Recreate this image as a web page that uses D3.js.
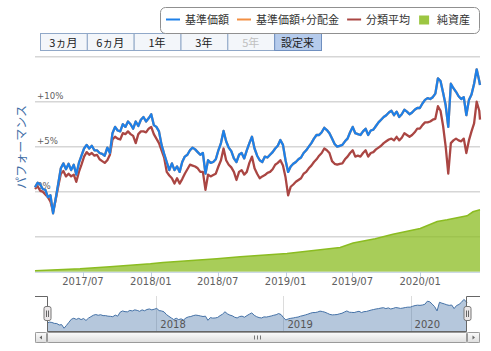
<!DOCTYPE html>
<html><head><meta charset="utf-8">
<script src="https://cdn.jsdelivr.net/npm/d3@7"></script>
<style>body{margin:0;background:#fff}svg{display:block}</style>
</head><body>
<svg id="c" width="491" height="351"></svg>
<script>
// ---------------- data ----------------
const dates = [
"2017-02-21","2017-02-28","2017-03-07","2017-03-14","2017-03-21","2017-03-28","2017-04-04","2017-04-11","2017-04-18","2017-04-25",
"2017-05-02","2017-05-09","2017-05-16","2017-05-23","2017-05-30","2017-06-06","2017-06-13","2017-06-20","2017-06-27","2017-07-04",
"2017-07-11","2017-07-18","2017-07-25","2017-08-01","2017-08-08","2017-08-15","2017-08-22","2017-08-29","2017-09-05","2017-09-12",
"2017-09-19","2017-09-26","2017-10-03","2017-10-10","2017-10-17","2017-10-24","2017-10-31","2017-11-07","2017-11-14","2017-11-21",
"2017-11-28","2017-12-05","2017-12-12","2017-12-19","2017-12-26",
"2018-01-02","2018-01-09","2018-01-16","2018-01-23","2018-01-30","2018-02-06","2018-02-13","2018-02-20","2018-02-27","2018-03-06",
"2018-03-13","2018-03-20","2018-03-27","2018-04-03","2018-04-10","2018-04-17","2018-04-24","2018-05-01","2018-05-08","2018-05-15",
"2018-05-22","2018-05-29","2018-06-05","2018-06-12","2018-06-19","2018-06-26","2018-07-03","2018-07-10","2018-07-17","2018-07-24",
"2018-07-31","2018-08-07","2018-08-14","2018-08-21","2018-08-28","2018-09-04","2018-09-11","2018-09-18","2018-09-25","2018-10-02",
"2018-10-09","2018-10-16","2018-10-23","2018-10-30","2018-11-06","2018-11-13","2018-11-20","2018-11-27","2018-12-04","2018-12-11",
"2018-12-18","2018-12-25",
"2019-01-01","2019-01-08","2019-01-15","2019-01-22","2019-01-29","2019-02-05","2019-02-12","2019-02-19","2019-02-26","2019-03-05",
"2019-03-12","2019-03-19","2019-03-26","2019-04-02","2019-04-09","2019-04-16","2019-04-23","2019-04-30","2019-05-07","2019-05-14",
"2019-05-21","2019-05-28","2019-06-04","2019-06-11","2019-06-18","2019-06-25","2019-07-02","2019-07-09","2019-07-16","2019-07-23",
"2019-07-30","2019-08-06","2019-08-13","2019-08-20","2019-08-27","2019-09-03","2019-09-10","2019-09-17","2019-09-24","2019-10-01",
"2019-10-08","2019-10-15","2019-10-22","2019-10-29","2019-11-05","2019-11-12","2019-11-19","2019-11-26","2019-12-03","2019-12-10",
"2019-12-17","2019-12-24","2019-12-31",
"2020-01-07","2020-01-14","2020-01-21","2020-01-28","2020-02-04","2020-02-11","2020-02-18","2020-02-25","2020-03-03","2020-03-10",
"2020-03-17","2020-03-24","2020-03-31","2020-04-07","2020-04-14","2020-04-21","2020-04-28","2020-05-05","2020-05-12","2020-05-19",
"2020-05-26","2020-06-02","2020-06-09","2020-06-11"];

// 基準価額 (騰落率 %)
const fundValues = [
0.5,1.0,0.8,0.3,0.2,-0.6,-0.4,-2.4,-0.8,0.9,
2.6,3.15,2.5,3.1,2.4,3.0,1.9,3.2,4.0,4.8,
5.2,4.8,5.1,4.6,4.6,4.3,4.2,4.0,4.9,4.3,
6.5,7.2,6.8,6.7,7.5,7.2,7.8,7.5,7.0,7.8,
7.3,8.0,8.3,7.8,8.15,
8.6,7.4,7.2,6.7,5.2,4.2,3.3,2.4,3.15,2.4,
2.8,2.2,3.3,3.9,4.1,4.6,4.9,4.7,4.4,4.1,
4.3,2.0,3.5,3.2,3.3,3.6,4.6,5.4,6.75,5.6,
4.9,4.5,3.7,3.3,4.1,4.3,3.7,4.6,5.4,6.1,
4.8,4.0,3.5,3.3,3.9,3.8,4.1,4.4,4.8,5.1,
5.75,5.2,
3.5,2.2,2.8,3.1,3.3,3.6,3.8,4.3,4.6,5.0,
5.4,5.9,6.3,6.3,6.6,7.1,6.85,6.5,5.9,5.3,
5.0,5.1,5.2,5.6,5.9,6.6,7.2,6.5,6.4,6.3,
6.7,7.0,6.3,6.8,6.9,7.3,7.7,8.0,8.3,8.5,
8.8,9.0,8.5,8.9,8.3,8.6,9.1,8.9,8.6,8.8,
9.1,9.3,9.3,
9.8,10.2,10.4,10.3,10.5,10.9,12.6,12.3,11.0,9.6,
7.2,12.0,11.5,11.1,10.6,10.3,10.5,8.5,10.2,10.8,
12.0,13.6,12.3,11.85];
// 基準価額+分配金 (分配実績なし: 基準価額と同一)
const withDistValues = fundValues.slice();
// 分類平均
const categoryValues = [
0.3,0.6,0.1,0.0,-0.3,-0.6,-1.1,-2.2,-0.9,0.6,
2.0,2.3,1.7,2.0,1.7,1.9,1.1,2.2,3.0,3.9,
4.4,4.1,4.3,4.0,4.1,3.6,3.4,3.2,3.5,4.1,
5.8,6.1,5.9,5.8,6.5,6.4,6.7,6.4,6.2,5.4,
6.4,6.7,6.7,6.6,7.0,
7.2,6.4,5.9,5.4,4.6,3.8,2.2,1.8,1.5,0.9,
1.5,0.9,1.4,2.0,2.5,3.0,2.9,2.8,2.6,2.2,
2.2,0.2,1.9,1.7,1.85,2.0,2.8,3.5,4.8,3.5,
3.0,2.7,2.2,1.3,2.2,2.4,1.9,2.2,3.2,3.9,
2.6,2.0,1.5,1.7,1.85,2.1,2.2,2.5,3.0,3.2,
3.5,2.9,
1.6,-0.4,0.55,0.8,1.1,1.3,1.5,2.0,2.2,2.6,
2.9,3.3,3.6,4.0,4.3,4.8,4.6,4.3,3.4,3.1,
3.0,3.1,3.15,3.6,3.9,4.3,4.6,3.9,4.0,3.9,
4.3,4.6,3.9,4.3,4.4,4.7,4.9,5.1,5.4,5.6,
5.8,5.9,5.7,6.1,5.7,6.0,6.5,6.3,6.1,6.3,
6.6,7.0,7.0,
7.4,7.7,7.7,7.8,8.0,8.1,9.5,9.0,7.3,5.0,
2.0,5.4,5.7,5.9,5.7,5.6,5.9,4.3,5.7,6.7,
7.6,10.0,9.0,8.0];

// 純資産 (相対値)
const assetDates = ["2017-02-21","2017-06-23","2017-09-12","2017-12-31","2018-02-03","2018-06-29","2018-08-31","2019-01-05","2019-04-05","2019-05-29","2019-07-03","2019-09-01","2019-10-19","2020-01-01","2020-02-16","2020-03-14","2020-05-07","2020-05-23","2020-06-11"];
const assetValues = [1,3,5,8,9.4,13,15,18.3,22,24.3,28.7,33,37.5,43.3,50.3,52,56,60,62];

const xTickLabels = ["2017/07","2018/01","2018/07","2019/01","2019/07","2020/01"];
const yTicks = [-5,0,5,10,15];
const yTickLabels = ["","0%","+5%","+10%",""];
const navTickLabels = ["2018","2019","2020"];
const buttons = ["3ヵ月","6ヵ月","1年","3年","5年","設定来"];
const legendItems = ["基準価額","基準価額+分配金","分類平均","純資産"];
const yTitle = "パフォーマンス";

// ---------------- drawing ----------------
const parse = d3.timeParse("%Y-%m-%d");
const pm = d3.timeParse("%Y/%m");
const pts = dates.map((d,i)=>({d:parse(d),f:fundValues[i],w:withDistValues[i],c:categoryValues[i]}));
const assets = assetDates.map((d,i)=>({d:parse(d),v:assetValues[i]}));
const svg = d3.select("#c");
const font = "'DejaVu Sans', Verdana, sans-serif";
const jp = "'Noto Sans CJK JP', 'Noto Sans', sans-serif";

const L = 35, R = 480, T = 56.7, B = 271.8;
const x = d3.scaleTime().domain([parse("2017-02-21"), parse("2020-06-11")]).range([L, R]);
const y = d3.scaleLinear().domain([-8.9, 15]).range([B, T]);
const ya = d3.scaleLinear().domain([0, 100]).range([B, B-100]);

// gridlines
svg.append("g").selectAll("line").data(yTicks).join("line")
  .attr("x1", L).attr("x2", R).attr("y1", d=>y(d)).attr("y2", d=>y(d))
  .attr("stroke", "#d6d6d6").attr("stroke-width", 1.6);

// net assets area
svg.append("path").datum(assets)
  .attr("d", d3.area().x(d=>x(d.d)).y0(B).y1(d=>ya(d.v)))
  .attr("fill", "#8bbc21").attr("fill-opacity", 0.75);
svg.append("path").datum(assets)
  .attr("d", d3.line().x(d=>x(d.d)).y(d=>ya(d.v)))
  .attr("fill", "none").attr("stroke", "#8bbc21").attr("stroke-width", 1.5);

// x axis
svg.append("line").attr("x1",L).attr("x2",R).attr("y1",B+0.5).attr("y2",B+0.5).attr("stroke","#c0d0e0");
const xt = xTickLabels.map(s=>pm(s));
svg.append("g").selectAll("line").data(xt).join("line")
  .attr("x1", d=>Math.round(x(d))+0.5).attr("x2", d=>Math.round(x(d))+0.5)
  .attr("y1", B).attr("y2", B+5).attr("stroke", "#c0d0e0");
svg.append("g").selectAll("text").data(xt).join("text")
  .attr("x", d=>x(d)).attr("y", 284.5).attr("text-anchor","middle")
  .attr("font-family", font).attr("font-size", 10).attr("fill", "#606060")
  .text((d,i)=>xTickLabels[i]);

// y labels
svg.append("g").selectAll("text").data(yTicks).join("text")
  .attr("x", L+2).attr("y", d=>y(d)-2.5)
  .attr("font-family", font).attr("font-size", 8.6).attr("fill", "#606060")
  .text((d,i)=>yTickLabels[i]);

// y title
svg.append("text").attr("transform","translate(26,147) rotate(-90)")
  .attr("text-anchor","middle").attr("font-family", jp).attr("font-size", 12)
  .attr("fill", "#3f6ea6").text(yTitle);

// lines
const line = k => d3.line().x(d=>x(d.d)).y(d=>y(d[k]));
svg.append("path").datum(pts).attr("d", line("c")).attr("fill","none")
  .attr("stroke","#aa4643").attr("stroke-width",2.3).attr("stroke-linejoin","round");
svg.append("path").datum(pts).attr("d", line("w")).attr("fill","none")
  .attr("stroke","#f28f43").attr("stroke-width",2.3).attr("stroke-linejoin","round");
svg.append("path").datum(pts).attr("d", line("f")).attr("fill","none")
  .attr("stroke","#1e80e8").attr("stroke-width",2.3).attr("stroke-linejoin","round");

// range buttons
const bx = d3.scaleBand().domain(buttons).range([40, 321]);
const bg = svg.append("g").selectAll("g").data(buttons).join("g");
bg.append("rect").attr("x", d=>bx(d)+0.5).attr("y", 33.5).attr("width", bx.bandwidth()).attr("height", 17)
  .attr("fill", d=>d==="設定来" ? "#b5cbec" : "#f3f6fa")
  .attr("stroke", d=>d==="設定来" ? "#6f8fbf" : "#90a8c8");
bg.append("text").attr("x", d=>bx(d)+bx.bandwidth()/2).attr("y", 46.5).attr("text-anchor","middle")
  .attr("font-family", jp).attr("font-size", 11)
  .attr("fill", d=>d==="5年" ? "#c0c0c0" : "#222").text(d=>d);

// legend
svg.append("rect").attr("x",160.5).attr("y",7.5).attr("width",319).attr("height",26).attr("rx",5)
  .attr("fill","#fff").attr("stroke","#909090");
const lcol = ["#1e80e8","#f28f43","#aa4643","#8bbc21"];
let lx = 166;
legendItems.forEach((t,i)=>{
  if (i===3) {
    svg.append("rect").attr("x",lx+1).attr("y",15.5).attr("width",10).attr("height",9).attr("fill","#8bbc21").attr("fill-opacity",0.85);
  } else {
    svg.append("line").attr("x1",lx).attr("x2",lx+14).attr("y1",19.5).attr("y2",19.5).attr("stroke",lcol[i]).attr("stroke-width",2);
  }
  const tx = svg.append("text").attr("x",lx+19).attr("y",23.5).attr("font-family",jp).attr("font-size",11)
    .attr("fill","#333").text(t);
  lx = lx + 19 + tx.node().getComputedTextLength() + 8;
});

// ---------------- navigator ----------------
const NT = 296, NB = 332, NL = 47, NR = 467;
const xn = d3.scaleTime().domain(x.domain()).range([NL, NR]);
const yn = d3.scaleLinear().domain([-4.5, 15.5]).range([NB, NT]);
const nt = navTickLabels.map(s=>new Date(+s,0,1));
svg.append("g").selectAll("line").data(nt).join("line")
  .attr("x1", d=>Math.round(xn(d))+0.5).attr("x2", d=>Math.round(xn(d))+0.5)
  .attr("y1", NT).attr("y2", NB).attr("stroke","#dcdcdc");
svg.append("path").datum(pts)
  .attr("d", d3.area().x(d=>xn(d.d)).y0(NB).y1(d=>yn(d.f)))
  .attr("fill","#4572a7").attr("fill-opacity",0.4);
svg.append("path").datum(pts)
  .attr("d", d3.line().x(d=>xn(d.d)).y(d=>yn(d.f)))
  .attr("fill","none").attr("stroke","#4572a7").attr("stroke-width",1);
svg.append("g").selectAll("text").data(nt).join("text")
  .attr("x", d=>xn(d)+4).attr("y", 327.5).attr("font-family",font).attr("font-size",10)
  .attr("fill","#555").text((d,i)=>navTickLabels[i]);
// outline
svg.append("path").attr("d",`M${L},${NT+0.5}L${NL+0.5},${NT+0.5}L${NL+0.5},${NB-0.5}L${NR-0.5},${NB-0.5}L${NR-0.5},${NT+0.5}L${R},${NT+0.5}`)
  .attr("fill","none").attr("stroke","#666");
// handles
[NL, NR].forEach(hx=>{
  const g = svg.append("g").attr("transform",`translate(${hx+0.5},314)`);
  g.append("rect").attr("x",-3.5).attr("y",-7.5).attr("width",7).attr("height",14).attr("rx",2)
    .attr("fill","#ebe7e8").attr("stroke","#777");
  g.append("line").attr("x1",-1).attr("x2",-1).attr("y1",-3.5).attr("y2",3).attr("stroke","#666");
  g.append("line").attr("x1",1).attr("x2",1).attr("y1",-3.5).attr("y2",3).attr("stroke","#666");
});

// ---------------- scrollbar ----------------
const defs = svg.append("defs");
const gr = defs.append("linearGradient").attr("id","sg").attr("x1",0).attr("x2",0).attr("y1",0).attr("y2",1);
gr.append("stop").attr("offset",0).attr("stop-color","#fbfbfb");
gr.append("stop").attr("offset",1).attr("stop-color","#dedede");
const ST = 332.5, SH = 10;
svg.append("rect").attr("x",L+0.5).attr("y",ST).attr("width",R-L-1).attr("height",SH)
  .attr("fill","#f2f2f2").attr("stroke","#c8c8c8");
svg.append("rect").attr("x",NL+0.5).attr("y",ST).attr("width",NR-NL-1).attr("height",SH).attr("rx",1)
  .attr("fill","url(#sg)").attr("stroke","#9a9a9a");
[[L, NL],[NR, R]].forEach(([a,b],i)=>{
  svg.append("rect").attr("x",a+0.5).attr("y",ST).attr("width",b-a-1).attr("height",SH).attr("rx",1)
    .attr("fill","url(#sg)").attr("stroke","#9a9a9a");
  const cx = (a+b)/2, cy = ST+SH/2;
  const d = i===0 ? `M${cx-1.5},${cy}L${cx+1},${cy-2}L${cx+1},${cy+2}Z` : `M${cx+1.5},${cy}L${cx-1},${cy-2}L${cx-1},${cy+2}Z`;
  svg.append("path").attr("d",d).attr("fill","#666");
});
const gx = (NL+NR)/2;
[-3,0,3].forEach(o=>svg.append("line").attr("x1",gx+o+0.5).attr("x2",gx+o+0.5).attr("y1",ST+3).attr("y2",ST+SH-3).attr("stroke","#777"));
</script>
</body></html>
